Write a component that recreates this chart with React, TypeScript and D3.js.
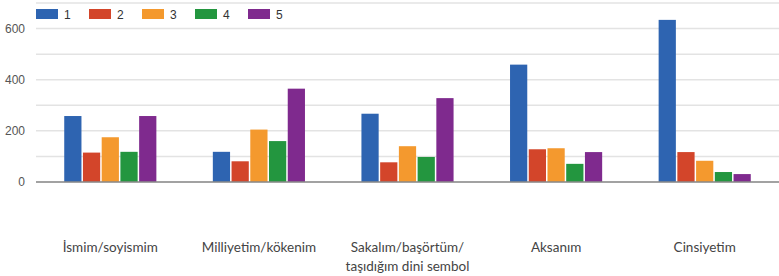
import React from "react";
import * as d3 from "d3";

const categories = [
	"İsmim/soyismim",
	"Milliyetim/kökenim",
	"Sakalım/başörtüm/\ntaşıdığım dini sembol",
	"Aksanım",
	"Cinsiyetim",
];
const seriesNames = ["1", "2", "3", "4", "5"];
const colors = ["#2e64b1", "#d3452a", "#f4992e", "#23963f", "#7f2a8e"];

// one array per series, values in category order
const s1 = [258, 118, 267, 459, 634];
const s2 = [115, 81, 77, 128, 117];
const s3 = [175, 205, 140, 132, 83];
const s4 = [118, 160, 98, 71, 39];
const s5 = [258, 365, 328, 117, 31];
const seriesValues = [s1, s2, s3, s4, s5];

const gridTicks = [0, 100, 200, 300, 400, 500, 600, 700];
const labelTicks = [0, 200, 400, 600];

export default function App() {
	const width = 779;
	const height = 276;
	const marginLeft = 36;
	const marginRight = 0;
	const plotTop = 3;
	const plotBottom = 182;

	const x = d3
		.scaleBand<string>()
		.domain(categories)
		.range([marginLeft, width - marginRight])
		.paddingInner(0.38)
		.paddingOuter(0.19);

	const xInner = d3
		.scaleBand<string>()
		.domain(seriesNames)
		.range([0, x.bandwidth()])
		.paddingInner(0.08);

	const y = d3.scaleLinear().domain([0, 700]).range([plotBottom, plotTop]);

	return (
		<svg
			width={width}
			height={height}
			style={{ position: "absolute", left: 0, top: 0, background: "#fff" }}
		>
			{/* gridlines */}
			<g>
				{gridTicks.map((t) => (
					<line
						key={t}
						x1={marginLeft}
						x2={width - marginRight}
						y1={y(t)}
						y2={y(t)}
						stroke="#e3e3e3"
						strokeWidth={1.5}
					/>
				))}
			</g>

			{/* y labels */}
			<g fontFamily="Arial, 'Liberation Sans', sans-serif" fontSize={12} fill="#555">
				{labelTicks.map((t) => (
					<text key={t} x={25} y={y(t)} dy="0.35em" textAnchor="end">
						{t}
					</text>
				))}
			</g>

			{/* bars */}
			{categories.map((c, ci) => (
				<g key={c} transform={`translate(${x(c)},0)`}>
					{seriesNames.map((s, si) => (
						<rect
							key={s}
							x={xInner(s)}
							y={y(seriesValues[si][ci])}
							width={xInner.bandwidth()}
							height={y(0) - y(seriesValues[si][ci])}
							fill={colors[si]}
						/>
					))}
				</g>
			))}

			{/* baseline */}
			<line
				x1={marginLeft}
				x2={width - marginRight}
				y1={y(0)}
				y2={y(0)}
				stroke="#8a8a8a"
				strokeWidth={1.5}
			/>

			{/* legend */}
			<g fontFamily="Arial, 'Liberation Sans', sans-serif" fontSize={12} fill="#333">
				{seriesNames.map((s, i) => (
					<g key={s} transform={`translate(${36 + i * 53},9)`}>
						<rect width={22} height={10} fill={colors[i]} />
						<text x={28} y={9.5}>
							{s}
						</text>
					</g>
				))}
			</g>

			{/* category labels */}
			<g fontFamily="Lato, 'Open Sans', sans-serif" fontSize={13.5} fill="#444" textAnchor="middle">
				{categories.map((c) => (
					<text key={c} x={(x(c) || 0) + x.bandwidth() / 2} y={252}>
						{c.split("\n").map((line, li) => (
							<tspan key={li} x={(x(c) || 0) + x.bandwidth() / 2} dy={li === 0 ? 0 : 18.5}>
								{line}
							</tspan>
						))}
					</text>
				))}
			</g>
		</svg>
	);
}
